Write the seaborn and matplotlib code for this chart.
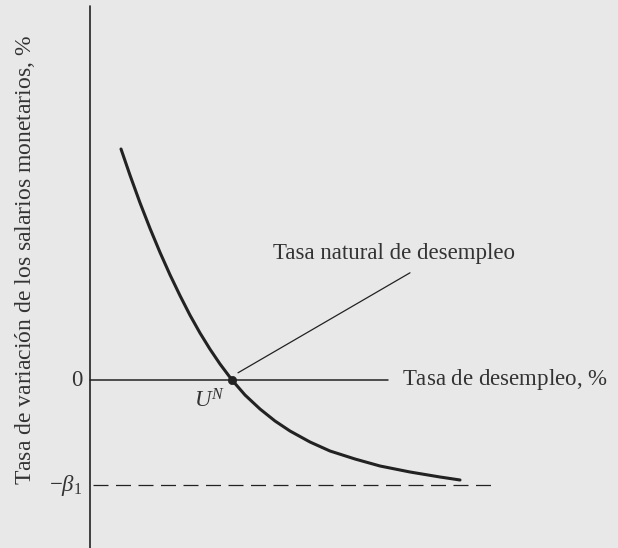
import numpy as np
import pandas as pd
import matplotlib
matplotlib.use("Agg")
import matplotlib.pyplot as plt
import seaborn as sns

# Phillips curve (unemployment %, wage change %)
unemp = [0.775, 1.0, 1.25, 1.5, 1.75, 2.0, 2.25, 2.5, 2.75, 3.0, 3.25, 3.55,
         3.875, 4.25, 4.625, 5.0, 5.5, 6.0, 6.625, 7.25, 8.0, 8.75, 9.25]
wage = [5.775, 5.12, 4.43, 3.79, 3.19, 2.63, 2.11, 1.62, 1.175, 0.77, 0.40, 0.0,
        -0.375, -0.725, -1.025, -1.275, -1.55, -1.775, -1.975, -2.15, -2.3,
        -2.425, -2.5]

u_natural = 3.55
beta1 = 2.625
x_axis_end = 7.45
dash_end = 10.175

x_label = "Tasa de desempleo, $\\mathit{\\%}$"
y_label = "Tasa de variación de los salarios monetarios, $\\mathit{\\%}$"
note = "Tasa natural de desempleo"

sns.set_theme(style="white")
plt.rcParams["font.family"] = ["Liberation Serif", "DejaVu Serif"]
plt.rcParams["mathtext.fontset"] = "custom"
plt.rcParams["mathtext.rm"] = "Liberation Serif"
plt.rcParams["mathtext.it"] = "Liberation Serif:italic"

bg = "#e8e8e8"
ink = "#222222"
txt = "#333333"
fs = 16.5

fig = plt.figure(figsize=(6.18, 5.48), dpi=100, facecolor=bg)
ax = fig.add_axes([0, 0, 1, 1], facecolor=bg)
ax.set_xlim(-2.25, 13.2)
ax.set_ylim(-4.2, 9.5)
ax.axis("off")

df = pd.DataFrame({"u": unemp, "w": wage})

# axes
ax.plot([0, 0], [-4.2, 9.35], color=ink, lw=1.2)
ax.plot([0, x_axis_end], [0, 0], color=ink, lw=1.1)
ax.plot([0.08, dash_end], [-beta1, -beta1], color=ink, lw=0.9,
        dashes=(12, 6))

sns.lineplot(data=df, x="u", y="w", sort=False, color=ink, lw=2.2,
             ax=ax, legend=False)
sns.scatterplot(x=[u_natural], y=[0], color=ink, s=36, ax=ax,
                edgecolor=ink, zorder=5, legend=False)

# leader line to the natural rate
ax.plot([u_natural + 0.15, 8.0], [0.18, 2.68], color=ink, lw=0.9)

ax.text(-0.2, 0, "0", ha="right", va="center", fontsize=fs, color=txt)
ax.text(-0.2, -beta1, "$-\\beta_1$", ha="right", va="center",
        fontsize=fs, color=txt)
ax.text(3.0, -0.525, "$U^N$", ha="center", va="center",
        fontsize=fs, color=txt)
ax.text(x_axis_end + 0.35, 0, x_label, ha="left", va="center",
        fontsize=fs, color=txt)
ax.text(7.6, 3.15, note, ha="center", va="center", fontsize=fs, color=txt)
ax.text(-1.62, 3.0, y_label, rotation=90, ha="center", va="center",
        fontsize=17, color=txt)

fig.savefig("out.png", dpi=100, facecolor=bg)
